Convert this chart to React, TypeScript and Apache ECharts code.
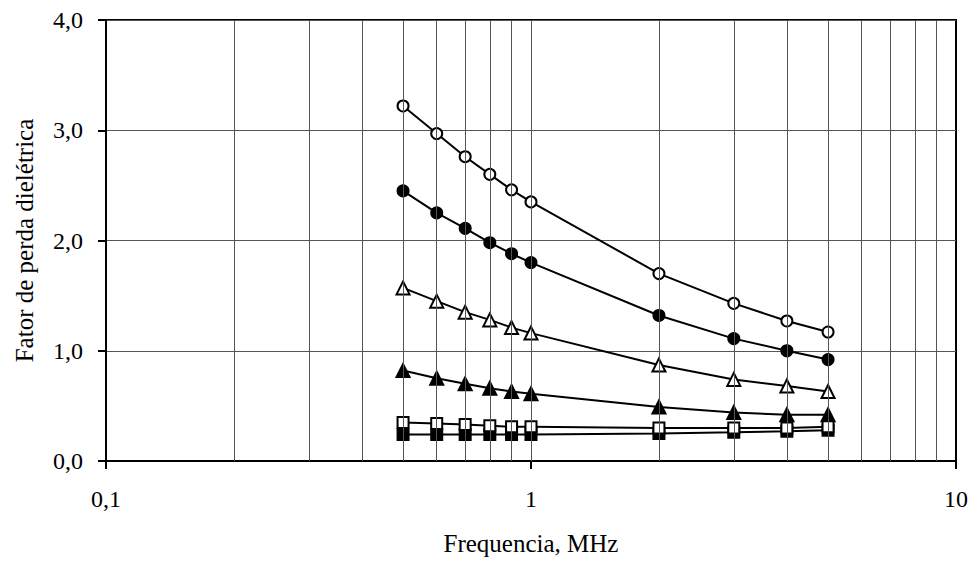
import React, { useEffect, useRef } from "react";
import * as echarts from "echarts";

const freqs = [0.5, 0.6, 0.7, 0.8, 0.9, 1, 2, 3, 4, 5];
const openCircle = [3.22, 2.97, 2.76, 2.6, 2.46, 2.35, 1.7, 1.43, 1.27, 1.17];
const filledCircle = [2.45, 2.25, 2.11, 1.98, 1.88, 1.8, 1.32, 1.11, 1.0, 0.92];
const openTriangle = [1.57, 1.45, 1.35, 1.28, 1.21, 1.16, 0.87, 0.74, 0.68, 0.63];
const filledTriangle = [0.82, 0.75, 0.7, 0.66, 0.63, 0.61, 0.49, 0.44, 0.42, 0.42];
const openSquare = [0.35, 0.34, 0.33, 0.32, 0.31, 0.31, 0.3, 0.3, 0.3, 0.31];
const filledSquare = [0.24, 0.24, 0.24, 0.24, 0.24, 0.24, 0.25, 0.26, 0.27, 0.28];
const minorGridX = [0.2, 0.3, 0.4, 0.5, 0.6, 0.7, 0.8, 0.9, 1, 2, 3, 4, 5, 6, 7, 8, 9];
const yLabel = "Fator de perda dielétrica";
const xLabel = "Frequencia, MHz";

const FONT = "'Liberation Serif', 'Times New Roman', serif";
const FS = 24;
const NFS = 25;

function mk(name: string, vals: number[], symbol: string, filled: boolean, size: number) {
  return {
    name,
    type: "line",
    z: 3,
    data: freqs.map((f, i) => [f, vals[i]]),
    symbol,
    symbolSize: size,
    showAllSymbol: true,
    lineStyle: { color: "#000", width: 2 },
    itemStyle: { color: filled ? "#000" : "#fff", borderColor: "#000", borderWidth: 2 },
  };
}

export default function App() {
  const ref = useRef<HTMLDivElement>(null);
  useEffect(() => {
    document.body.style.margin = "0";
    if (!ref.current) return;
    const chart = echarts.init(ref.current, undefined, { renderer: "svg" });
    chart.setOption({
      animation: false,
      grid: {
        left: 106,
        right: 16,
        top: 20,
        bottom: 105,
        show: true,
        borderColor: "#000",
        borderWidth: 2,
        backgroundColor: "transparent",
      },
      xAxis: {
        type: "log",
        logBase: 10,
        min: 0.1,
        max: 10,
        name: xLabel,
        nameLocation: "middle",
        nameGap: 70,
        nameTextStyle: { fontFamily: FONT, fontSize: NFS, color: "#000" },
        axisLine: { show: true, lineStyle: { color: "#000", width: 2 } },
        axisTick: { show: true, inside: false, length: 8, lineStyle: { color: "#000", width: 2 } },
        axisLabel: {
          fontFamily: FONT,
          fontSize: FS,
          color: "#000",
          margin: 26,
          formatter: (v: number) => String(v).replace(".", ","),
        },
        splitLine: { show: false },
      },
      yAxis: {
        type: "value",
        min: 0,
        max: 4,
        interval: 1,
        name: yLabel,
        nameLocation: "middle",
        nameGap: 69,
        nameTextStyle: { fontFamily: FONT, fontSize: NFS, color: "#000" },
        axisLine: { show: true, lineStyle: { color: "#000", width: 2 } },
        axisTick: { show: true, inside: false, length: 8, lineStyle: { color: "#000", width: 2 } },
        axisLabel: {
          fontFamily: FONT,
          fontSize: FS,
          color: "#000",
          margin: 23,
          formatter: (v: number) => v.toFixed(1).replace(".", ","),
        },
        splitLine: { show: true, lineStyle: { color: "#555", width: 1 } },
      },
      series: [
        {
          type: "line",
          z: 1,
          data: [],
          silent: true,
          markLine: {
            silent: true,
            symbol: "none",
            label: { show: false },
            lineStyle: { color: "#555", width: 1, type: "solid" },
            data: minorGridX.map((x) => ({ xAxis: x })),
          },
        },
        mk("openCircle", openCircle, "circle", false, 11),
        mk("filledCircle", filledCircle, "circle", true, 11),
        mk("openTriangle", openTriangle, "triangle", false, 13),
        mk("filledTriangle", filledTriangle, "triangle", true, 13),
        mk("filledSquare", filledSquare, "rect", true, 11),
        mk("openSquare", openSquare, "rect", false, 11),
      ],
    });
    return () => chart.dispose();
  }, []);
  return <div ref={ref} style={{ width: 972, height: 566 }} />;
}
